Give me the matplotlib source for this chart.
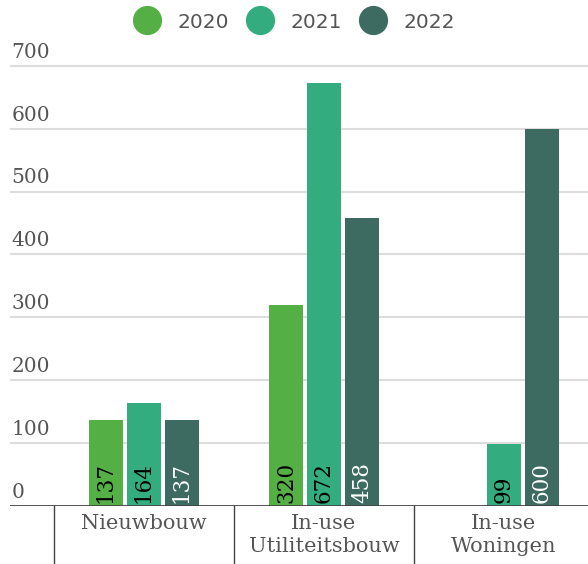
import matplotlib.pyplot as plt
import numpy as np

categories = ['Nieuwbouw', 'In-use\nUtiliteitsbouw', 'In-use\nWoningen']
years = ['2020', '2021', '2022']
v2020 = [137, 320, 0]
v2021 = [164, 672, 99]
v2022 = [137, 458, 600]
yticks = [0, 100, 200, 300, 400, 500, 600, 700]

colors = ['#54b045', '#33ad80', '#3d6a61']
labelcolors = ['black', 'black', 'white']
grey = '#555555'
serif = 'DejaVu Serif'

fig = plt.figure(figsize=(5.88, 5.64), dpi=100)
ax = fig.add_axes([10/588, 58/564, 578/588, 466/564])

x = np.arange(len(categories))
w = 34/180
step = 38/180
series = [v2020, v2021, v2022]
for i, vals in enumerate(series):
    xs = x + (i - 1) * step
    ax.bar(xs, vals, width=w, color=colors[i], zorder=2)
    for xx, v in zip(xs, vals):
        if v > 0:
            ax.annotate(str(v), (xx, 0), xytext=(0, 2), textcoords='offset points',
                        rotation=90, ha='center', va='bottom', fontsize=15.5,
                        color=labelcolors[i], family=serif, zorder=3)

ax.set_xlim(-0.744, 2.467)
ax.set_ylim(0, 741)

for t in yticks[1:]:
    ax.axhline(t, color='#dddddd', lw=1.5, zorder=1)
for t in yticks:
    ax.annotate(str(t), (0.003, t), xycoords=ax.get_yaxis_transform(),
                xytext=(0, 3), textcoords='offset points', ha='left', va='bottom',
                fontsize=14.5, color=grey, family=serif)

ax.axhline(0, color='#444444', lw=2, zorder=4)
for s in [-0.5, 0.5, 1.5]:
    ax.plot([s, s], [0, -0.14], transform=ax.get_xaxis_transform(), color='#444444',
            lw=1, clip_on=False)
for i, c in enumerate(categories):
    ax.text(i, -0.018, c, transform=ax.get_xaxis_transform(), ha='center', va='top',
            fontsize=15, color=grey, family=serif, linespacing=1.25)

for s in ax.spines.values():
    s.set_visible(False)
ax.set_xticks([])
ax.set_yticks([])

handles = [plt.Line2D([], [], marker='o', ls='', color=c, markersize=20) for c in colors]
fig.legend(handles, years, loc='center', bbox_to_anchor=(295/588, 1 - 22/564), ncol=3,
           frameon=False, fontsize=14.5, labelcolor=grey, handletextpad=0.9,
           columnspacing=0.95, handlelength=1.2)

fig.savefig('out.png', dpi=100)
